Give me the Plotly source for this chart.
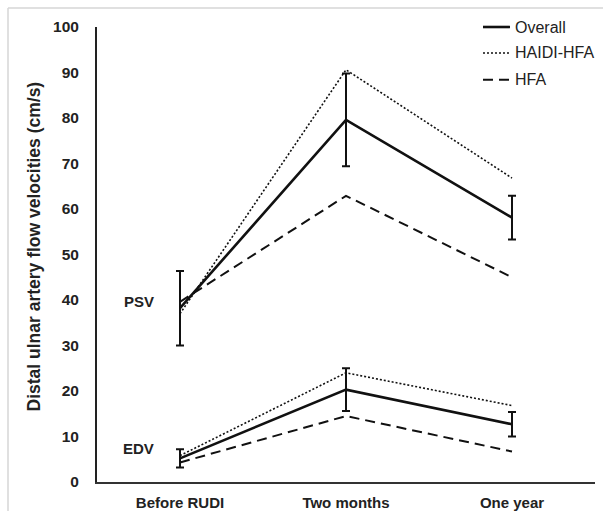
import plotly.graph_objects as go

# Time points after radial-to-ulnar artery diversion
timepoints = ["Before RUDI", "Two months", "One year"]

# Peak systolic velocity (cm/s)
psv_overall = [38.2, 79.6, 58.1]
psv_overall_err = [8.2, 10.2, 4.8]
psv_haidi_hfa = [37.0, 90.6, 66.8]
psv_hfa = [39.6, 62.9, 45.0]

# End diastolic velocity (cm/s)
edv_overall = [5.2, 20.3, 12.7]
edv_overall_err = [2.0, 4.7, 2.7]
edv_haidi_hfa = [5.8, 24.0, 16.8]
edv_hfa = [4.3, 14.5, 6.7]

series_names = ["Overall", "HAIDI-HFA", "HFA"]
line_styles = [
    dict(color="#111111", width=2.6, dash="solid"),
    dict(color="#111111", width=1.6, dash="2px,2px"),
    dict(color="#111111", width=2.0, dash="10px,6px"),
]
psv_series = [psv_overall, psv_haidi_hfa, psv_hfa]
edv_series = [edv_overall, edv_haidi_hfa, edv_hfa]
psv_errors = [psv_overall_err, None, None]
edv_errors = [edv_overall_err, None, None]

fig = go.Figure()
for name, line, psv, edv, psv_err, edv_err in zip(
        series_names, line_styles, psv_series, edv_series, psv_errors, edv_errors):
    for vals, err in ((psv, psv_err), (edv, edv_err)):
        kw = {}
        if err is not None:
            kw["error_y"] = dict(type="data", array=err, visible=True,
                                 color="#111111", thickness=2, width=4)
        fig.add_trace(go.Scatter(x=timepoints, y=vals, mode="lines", name=name,
                                 line=line, showlegend=False, **kw))

# Compact legend in the top-right corner
legend_rows = [1.0, 0.943, 0.884]
for name, line, ly in zip(series_names, line_styles, legend_rows):
    fig.add_shape(type="line", xref="paper", yref="paper",
                  x0=0.7751, x1=0.8293, y0=ly, y1=ly, line=line)
    fig.add_annotation(x=0.8353, xref="paper", y=ly, yref="paper", text=name,
                       xanchor="left", yanchor="middle", showarrow=False,
                       font=dict(size=16, color="#222222"))

# Measurement labels
for text, yval in (("PSV", 39.6), ("EDV", 7.3)):
    fig.add_annotation(x=0.0843, xref="paper", y=yval, yref="y", text=f"<b>{text}</b>",
                       xanchor="center", yanchor="middle", showarrow=False,
                       font=dict(size=15, color="#222222"))

# Y-axis title
fig.add_annotation(x=-0.1265, xref="paper", y=0.5176, yref="paper",
                   text="<b>Distal ulnar artery flow velocities (cm/s)</b>",
                   textangle=-90, xanchor="center", yanchor="middle", showarrow=False,
                   font=dict(size=17.5, color="#222222"))

# Light frame along the top and left edges
frame = dict(type="line", xref="paper", yref="paper", line=dict(color="#d6d6d6", width=1.5))
fig.add_shape(x0=-0.1787, x1=1.02, y0=1.0418, y1=1.0418, **frame)
fig.add_shape(x0=-0.1787, x1=-0.1787, y0=1.0418, y1=-0.07, **frame)

fig.update_layout(
    width=603, height=511,
    margin=dict(l=97, r=8, t=27, b=29),
    paper_bgcolor="white", plot_bgcolor="white",
    font=dict(family="Liberation Sans, Arial, sans-serif", color="#222222"),
    showlegend=False,
    xaxis=dict(type="category", range=[-0.5, 2.5], showgrid=False, zeroline=False,
               showline=True, linecolor="#333333", linewidth=2, ticks="",
               automargin=False,
               tickfont=dict(size=15, weight="bold"), ticklabelstandoff=6),
    yaxis=dict(range=[0, 100], dtick=10, showgrid=False, zeroline=False,
               showline=True, linecolor="#222222", linewidth=2, ticks="",
               automargin=False,
               tickfont=dict(size=15.5, weight="bold"), ticklabelstandoff=13),
)

fig.write_html("out.html")
